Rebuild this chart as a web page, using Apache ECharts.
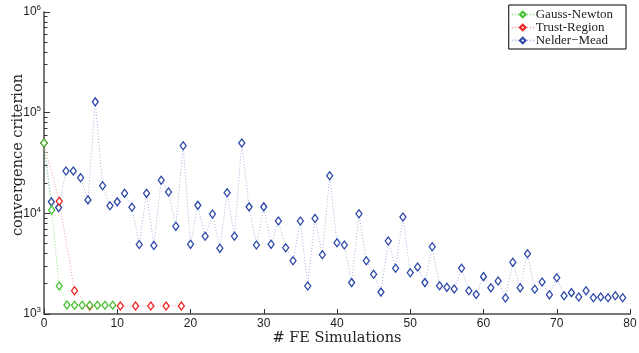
<!DOCTYPE html>
<html>
<head>
<meta charset="utf-8">
<script src="https://cdn.jsdelivr.net/npm/echarts@6/dist/echarts.min.js"></script>
<style>html,body{margin:0;padding:0;background:#fff}#c{width:639px;height:353px}</style>
</head>
<body>
<div id="c"></div>
<script>
// Gauss-Newton
const gnX = [0, 1.04, 2.08, 3.13, 4.17, 5.21, 6.25, 7.29, 8.33, 9.38];
const gnY = [50000, 10800, 1900, 1230, 1220, 1220, 1220, 1220, 1220, 1220];
// Trust-Region
const trX = [0, 2.08, 4.17, 6.25, 10.42, 12.5, 14.58, 16.67, 18.75];
const trY = [50000, 13200, 1700, 1200, 1200, 1200, 1200, 1200, 1200];
// Nelder-Mead (x = 0..79)
const nmY = [50000,13000,11400,26300,26300,22600,13600,128000,18800,11900,
  13000,15800,11500,4900,15800,4800,21300,16300,7430,46900,
  4920,12000,5920,9840,4490,16000,5920,49900,11600,4840,
  11600,4920,8400,4550,3380,8400,1900,8900,3880,23600,
  5100,4840,2050,9900,3380,2480,1650,5310,2850,9190,
  2570,2930,2050,4660,1910,1840,1770,2850,1700,1560,
  2350,1820,2130,1440,3260,1820,3970,1760,2080,1550,
  2290,1520,1630,1475,1700,1450,1475,1450,1520,1450];
const nmX = nmY.map((_, i) => i);
const seriesNames = ['Gauss-Newton', 'Trust-Region', 'Nelder\u2212Mead'];
const xTicks = [0, 10, 20, 30, 40, 50, 60, 70, 80];
const yMajor = [1e3, 1e4, 1e5, 1e6];
const yMinor = [];
for (let e = 3; e < 6; e++) for (let m = 2; m <= 9; m++) yMinor.push(m * Math.pow(10, e));

const colors = ['#3fc22a', '#ee1c1c', '#2a46a8'];
const lineColors = ['#8fdc80', '#f39a9a', '#a9b2df'];

const pairs = (xs, ys) => xs.map((x, i) => [x, ys[i]]);

function mk(name, data, idx, z) {
  return {
    name: name, type: 'line', data: data, z: z,
    symbol: 'diamond', symbolSize: [6, 8],
    showSymbol: true,
    itemStyle: { color: '#fff', borderColor: colors[idx], borderWidth: 1.3 },
    lineStyle: { color: lineColors[idx], width: 1, type: [1, 2] },
    emphasis: { disabled: true },
    animation: false
  };
}

const chart = echarts.init(document.getElementById('c'), null, { renderer: 'canvas' });
const serif = '"Liberation Serif", "DejaVu Serif", serif';
const dserif = '"DejaVu Serif", "Liberation Serif", serif';
const sans = '"Liberation Sans", Arial, sans-serif';
chart.setOption({
  animation: false,
  grid: { left: 44, right: 9, top: 12, bottom: 39, containLabel: false, outerBoundsMode: 'none' },
  legend: {
    data: seriesNames,
    orient: 'vertical', right: 13, top: 5,
    borderColor: '#000', borderWidth: 1, backgroundColor: '#fff',
    padding: [3, 13, 2, 2], itemGap: 0, itemWidth: 22, itemHeight: 7,
    textStyle: { fontFamily: serif, fontSize: 13, lineHeight: 12, color: '#222', padding: [0, 0, 0, -3] }
  },
  xAxis: {
    type: 'value', min: 0, max: 80, interval: 10,
    name: '# FE Simulations', nameLocation: 'middle', nameGap: 17, nameMoveOverlap: false,
    nameTextStyle: { fontFamily: dserif, fontSize: 14.5, color: '#222', verticalAlign: 'top' },
    axisLine: { show: true, lineStyle: { color: '#777', width: 2 } },
    axisTick: { show: true, inside: true, length: 5, lineStyle: { color: '#333', width: 1 }, customValues: xTicks },
    axisLabel: { fontFamily: sans, fontSize: 12, color: '#222', margin: 4, customValues: xTicks },
    splitLine: { show: false }
  },
  yAxis: [{
    type: 'log', logBase: 10, min: 1e3, max: 1e6,
    name: 'convergence criterion', nameLocation: 'middle', nameGap: 18, nameMoveOverlap: false,
    nameTextStyle: { fontFamily: dserif, fontSize: 14.5, color: '#222', padding: [0, 0, 0, 16] },
    axisLine: { show: true, lineStyle: { color: '#777', width: 2 } },
    axisTick: { show: true, inside: true, length: 6, lineStyle: { color: '#333', width: 1 }, customValues: yMajor },
    axisLabel: {
      margin: 3, customValues: yMajor,
      formatter: v => '{b|10}{s|' + Math.round(Math.log10(v)) + '}',
      rich: {
        b: { fontFamily: sans, fontSize: 12, color: '#222' },
        s: { fontFamily: sans, fontSize: 8, color: '#222', padding: [0, 0, 8, 0] }
      }
    },
    splitLine: { show: false }
  }, {
    type: 'log', logBase: 10, min: 1e3, max: 1e6, position: 'left',
    axisLine: { show: false },
    axisTick: { show: true, inside: true, length: 3.5, lineStyle: { color: '#333', width: 1 }, customValues: yMinor },
    axisLabel: { show: false },
    splitLine: { show: false }
  }],
  series: [
    mk(seriesNames[2], pairs(nmX, nmY), 2, 2),
    mk(seriesNames[1], pairs(trX, trY), 1, 3),
    mk(seriesNames[0], pairs(gnX, gnY), 0, 4)
  ]
});
</script>
</body>
</html>
